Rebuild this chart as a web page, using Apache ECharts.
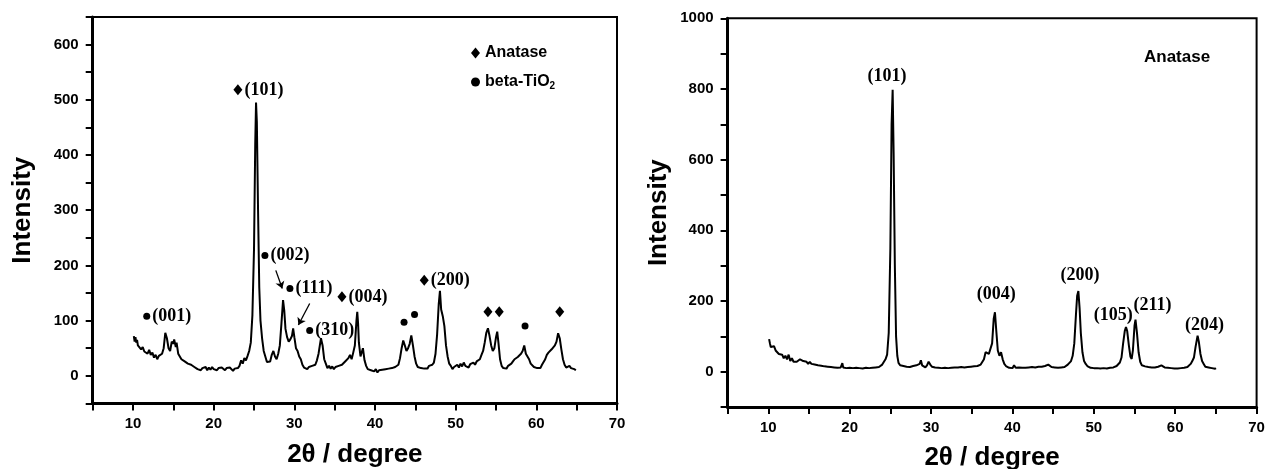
<!DOCTYPE html>
<html>
<head>
<meta charset="utf-8">
<script src="https://cdn.jsdelivr.net/npm/echarts@6/dist/echarts.min.js"></script>
<style>html,body{margin:0;padding:0;background:#fff}#c{width:1266px;height:469px}</style>
</head>
<body>
<div id="c"></div>
<script>
// ---- Left panel: mixed anatase / beta-TiO2 ----
const leftTheta = [10.1,10.2,10.3,10.4,10.5,10.6,10.8,11.0,11.2,11.4,11.6,11.8,12.0,12.2,12.4,12.6,12.8,13.0,13.2,13.4,13.6,13.8,14.0,14.1,14.2,14.4,14.6,14.8,15.0,15.1,15.3,15.4,15.6,15.8,16.0,16.2,16.4,16.6,16.8,17.0,17.2,17.4,17.6,17.8,18.0,18.2,18.4,18.6,18.8,19.0,19.2,19.4,19.6,19.8,20.0,20.2,20.4,20.6,20.8,21.0,21.2,21.4,21.6,21.8,22.0,22.2,22.4,22.6,22.8,23.0,23.2,23.4,23.6,23.8,24.0,24.2,24.4,24.6,24.8,25.0,25.15,25.25,25.35,25.5,25.65,25.8,26.0,26.2,26.4,26.6,26.8,27.0,27.2,27.4,27.6,27.8,28.0,28.2,28.4,28.6,28.75,28.9,29.1,29.3,29.5,29.7,29.85,30.0,30.2,30.4,30.6,30.8,31.0,31.2,31.4,31.6,31.8,32.0,32.2,32.4,32.6,32.8,33.0,33.3,33.5,33.7,33.9,34.1,34.3,34.5,34.7,34.9,35.1,35.3,35.5,35.7,35.9,36.1,36.3,36.5,36.7,36.9,37.1,37.3,37.5,37.7,37.8,37.9,38.0,38.2,38.4,38.5,38.7,38.9,39.1,39.3,39.5,39.7,39.9,40.1,40.3,40.5,40.7,40.9,41.1,41.3,41.5,41.7,41.9,42.1,42.3,42.5,42.7,42.9,43.1,43.3,43.5,43.7,43.9,44.1,44.3,44.5,44.7,44.9,45.1,45.3,45.5,45.7,45.9,46.1,46.3,46.5,46.7,46.9,47.1,47.3,47.5,47.7,47.9,48.05,48.2,48.4,48.6,48.8,49.0,49.2,49.4,49.6,49.8,50.0,50.2,50.4,50.6,50.8,51.0,51.2,51.4,51.6,51.8,52.0,52.2,52.4,52.6,52.8,53.0,53.2,53.4,53.6,53.8,54.0,54.2,54.4,54.6,54.8,55.0,55.15,55.3,55.5,55.7,55.9,56.1,56.3,56.5,56.7,56.9,57.1,57.3,57.5,57.7,57.9,58.1,58.3,58.5,58.7,58.9,59.1,59.3,59.5,59.7,59.9,60.1,60.3,60.5,60.7,60.9,61.1,61.3,61.5,61.7,61.9,62.1,62.3,62.5,62.7,62.9,63.1,63.3,63.5,63.7,63.9,64.1,64.3,64.5,64.7,64.9];
const leftIntensity = [72,62,70,60,65,55,58,48,52,44,46,40,47,38,42,33,38,30,36,33,40,50,78,80,68,50,45,62,58,66,52,60,40,38,30,32,26,28,22,25,20,22,16,18,12,15,10,14,11,16,10,15,11,16,12,15,10,14,11,15,12,10,14,11,15,12,9,13,10,14,18,28,22,32,28,36,45,60,110,230,420,495,460,300,160,100,68,45,35,25,22,26,38,45,35,30,40,55,95,137,118,85,70,62,66,72,86,70,50,45,35,30,20,15,18,12,16,14,18,15,20,28,40,68,55,30,22,14,18,13,17,12,16,14,18,15,20,18,26,24,32,38,30,42,55,100,116,95,60,35,45,50,28,18,12,15,10,13,8,12,6,10,7,11,8,12,9,13,10,14,11,16,14,20,32,50,64,55,45,50,58,73,55,35,22,16,18,14,17,13,16,13,18,15,20,24,40,75,130,154,120,108,90,55,35,22,18,12,16,14,20,15,22,17,24,18,20,15,21,18,24,20,26,24,30,38,45,60,78,86,72,55,45,50,70,80,60,30,18,14,17,13,18,16,22,26,30,28,34,36,40,45,55,40,42,30,22,20,16,18,14,17,14,20,22,30,38,42,45,48,50,55,62,77,68,48,30,20,15,12,18,14,17,12,10];

// peak markers (theta, marker height, label)
const leftAnataseTheta = [23.0, 35.9, 46.1, 54.0, 55.4, 62.9];
const leftAnataseY     = [518, 143, 173, 116, 116, 116];
const leftAnataseLabel = ['(101)', '(004)', '(200)', '', '', ''];
const leftBetaTheta = [11.7, 26.35, 29.45, 31.9, 43.6, 44.9, 58.6];
const leftBetaY     = [108, 218, 158, 82, 97, 111, 90];
const leftBetaLabel = ['(001)', '(002)', '(111)', '(310)', '', '', ''];
// arrows: [theta0, y0, theta1, y1]
const leftArrows = [[27.7, 191, 28.5, 158], [31.9, 131, 30.5, 92]];

// ---- Right panel: anatase ----
const rightTheta = [10.1,10.2,10.3,10.5,10.7,10.9,11.1,11.3,11.5,11.7,11.9,12.1,12.3,12.5,12.7,12.9,13.1,13.3,13.5,13.7,13.9,14.1,14.3,14.5,14.7,14.9,15.1,15.3,15.5,15.7,15.9,16.1,16.3,16.5,16.7,16.9,17.1,17.3,17.5,17.7,17.9,18.1,18.3,18.5,18.7,18.9,19.1,19.2,19.4,19.6,19.8,20.0,20.2,20.4,20.6,20.8,21.0,21.2,21.4,21.6,21.8,22.0,22.2,22.4,22.6,22.8,23.0,23.2,23.4,23.6,23.8,24.0,24.2,24.4,24.6,24.8,25.0,25.15,25.28,25.4,25.55,25.7,25.85,26.0,26.2,26.4,26.6,26.8,27.0,27.2,27.4,27.6,27.8,28.0,28.2,28.4,28.6,28.75,28.9,29.1,29.3,29.5,29.7,29.9,30.1,30.3,30.5,30.7,30.9,31.1,31.3,31.5,31.7,31.9,32.1,32.3,32.5,32.7,32.9,33.1,33.3,33.5,33.7,33.9,34.1,34.3,34.5,34.7,34.9,35.1,35.3,35.5,35.7,35.9,36.1,36.3,36.5,36.7,36.9,37.1,37.3,37.5,37.7,37.85,38.0,38.2,38.4,38.6,38.8,39.0,39.2,39.4,39.6,39.8,40.0,40.2,40.4,40.6,40.8,41.0,41.2,41.4,41.6,41.8,42.0,42.2,42.4,42.6,42.8,43.0,43.2,43.4,43.6,43.8,44.0,44.2,44.4,44.6,44.8,45.0,45.2,45.4,45.6,45.8,46.0,46.2,46.4,46.6,46.8,47.0,47.2,47.4,47.6,47.8,47.95,48.1,48.25,48.4,48.6,48.8,49.0,49.2,49.4,49.6,49.8,50.0,50.2,50.4,50.6,50.8,51.0,51.2,51.4,51.6,51.8,52.0,52.2,52.4,52.6,52.8,53.0,53.2,53.4,53.6,53.8,53.95,54.1,54.3,54.5,54.65,54.8,55.0,55.12,55.3,55.5,55.7,55.9,56.1,56.3,56.5,56.7,56.9,57.1,57.3,57.5,57.7,57.9,58.1,58.3,58.5,58.7,58.9,59.1,59.3,59.5,59.7,59.9,60.1,60.3,60.5,60.7,60.9,61.1,61.3,61.5,61.7,61.9,62.1,62.3,62.5,62.75,62.9,63.1,63.3,63.5,63.7,63.9,64.1,64.3,64.5,64.7,64.9,65.0];
const rightIntensity = [92,80,70,65,72,60,55,50,45,48,38,45,35,48,30,38,28,32,28,30,35,40,30,26,28,22,28,22,25,20,22,18,21,17,20,15,18,14,17,13,16,12,14,11,13,12,24,12,14,10,13,11,14,10,13,11,14,10,12,9,13,11,14,10,13,11,15,12,16,13,17,20,25,35,48,110,350,700,798,620,300,100,45,25,18,14,16,12,14,11,13,12,16,14,18,16,22,32,18,14,12,18,28,20,14,10,12,8,11,7,10,8,11,7,10,8,11,9,12,9,12,10,13,10,12,9,13,11,14,12,15,13,16,18,20,25,35,55,60,50,52,80,150,168,120,60,45,55,35,22,16,13,11,13,10,18,11,9,12,9,11,8,11,9,12,10,13,10,12,11,14,18,14,12,16,14,20,15,13,16,12,14,11,14,12,15,13,17,20,24,30,45,80,160,215,228,180,110,55,30,22,16,13,11,14,10,13,10,12,9,13,10,12,9,13,11,14,12,15,16,20,26,40,80,115,126,115,75,42,36,60,130,147,110,55,28,18,13,15,11,13,10,12,9,12,10,14,12,18,14,12,15,11,13,10,12,9,11,9,12,10,13,11,14,13,17,22,30,40,70,102,85,50,30,22,14,18,12,15,10,12,8,10];

const rightLabelTheta = [24.6, 38.0, 48.3, 52.4, 57.2, 63.6];
const rightLabelY     = [837, 218, 272, 159, 187, 132];
const rightLabelText  = ['(101)', '(004)', '(200)', '(105)', '(211)', '(204)'];

// ---- tick labels ----
const xTickLabels = [10, 20, 30, 40, 50, 60, 70];
const leftYTickLabels = [0, 100, 200, 300, 400, 500, 600];
const rightYTickLabels = [0, 200, 400, 600, 800, 1000];

const zip = (a, b) => a.map((v, i) => [v, b[i]]);
const marks = (xs, ys, labels) => xs.map((x, i) => ({ name: labels[i], value: [x, ys[i]] }));

const SANS = 'Liberation Sans, Arial, sans-serif';
const SERIF = 'Liberation Serif, Times New Roman, serif';

function xAxis(gridIndex) {
  return {
    gridIndex, type: 'value', min: 5, max: 70, interval: 5,
    name: '2\u03b8 / degree', nameLocation: 'middle', nameGap: 38,
    nameTextStyle: { fontSize: 26, fontWeight: 'bold', color: '#000', fontFamily: SANS },
    axisLine: { onZero: false, lineStyle: { color: '#000', width: 3 } },
    axisTick: { length: 7, lineStyle: { color: '#000', width: 2 } },
    axisLabel: {
      formatter: v => xTickLabels.includes(v) ? String(v) : '',
      color: '#000', fontWeight: 'bold', fontSize: 15, margin: 13, fontFamily: SANS,
      showMaxLabel: true, showMinLabel: true
    },
    splitLine: { show: false }
  };
}
function yAxis(gridIndex, min, max, interval, labels, gap) {
  return {
    gridIndex, type: 'value', min, max, interval,
    name: 'Intensity', nameLocation: 'middle', nameGap: gap,
    nameTextStyle: { fontSize: 26, fontWeight: 'bold', color: '#000', fontFamily: SANS },
    axisLine: { onZero: false, lineStyle: { color: '#000', width: 3 } },
    axisTick: { length: 7, lineStyle: { color: '#000', width: 2 } },
    axisLabel: {
      formatter: v => labels.includes(v) ? String(v) : '',
      color: '#000', fontWeight: 'bold', fontSize: 15, margin: 14, fontFamily: SANS
    },
    splitLine: { show: false }
  };
}

const peakLabel = {
  show: true, formatter: '{b}', position: 'right', distance: 2,
  color: '#000', fontFamily: SERIF, fontSize: 18, fontWeight: 'bold'
};

const chart = echarts.init(document.getElementById('c'), null, { renderer: 'canvas' });
chart.setOption({
  animation: false,
  backgroundColor: '#fff',
  grid: [
    { left: 92.7, top: 17, width: 524.3, height: 386.4, show: true, borderColor: '#000', borderWidth: 2,
      backgroundColor: 'transparent', containLabel: false, outerBoundsMode: 'none' },
    { left: 727.6, top: 18.3, width: 529, height: 388.7, show: true, borderColor: '#000', borderWidth: 2,
      backgroundColor: 'transparent', containLabel: false, outerBoundsMode: 'none' }
  ],
  xAxis: [xAxis(0), xAxis(1)],
  yAxis: [
    yAxis(0, -50, 650, 50, leftYTickLabels, 57),
    yAxis(1, -100, 1000, 100, rightYTickLabels, 56)
  ],
  legend: {
    orient: 'vertical', left: 466, top: 40, itemWidth: 9, itemHeight: 11, itemGap: 13,
    data: [
      { name: 'Anatase', icon: 'diamond', itemStyle: { color: '#000', opacity: 1 } },
      { name: 'beta-TiO2', icon: 'circle', itemStyle: { color: '#000', opacity: 1 } }
    ],
    formatter: n => n === 'beta-TiO2' ? '{t|beta-TiO}{s|2}' : '{t|Anatase}',
    textStyle: {
      color: '#000',
      rich: {
        t: { fontSize: 16, fontWeight: 'bold', fontFamily: SANS, color: '#000' },
        s: { fontSize: 10, fontWeight: 'bold', fontFamily: SANS, color: '#000', padding: [9, 0, 0, 0] }
      }
    }
  },
  title: {
    text: 'Anatase', left: 1139, top: 44,
    textStyle: { fontSize: 17, fontWeight: 'bold', fontFamily: SANS, color: '#000' }
  },
  series: [
    {
      type: 'line', xAxisIndex: 0, yAxisIndex: 0, showSymbol: false, silent: true,
      lineStyle: { color: '#000', width: 2 }, data: zip(leftTheta, leftIntensity),
      markLine: {
        silent: true, symbol: ['none', 'arrow'], symbolSize: 7,
        lineStyle: { color: '#000', width: 1.3, type: 'solid' }, label: { show: false },
        data: leftArrows.map(a => [{ coord: [a[0], a[1]] }, { coord: [a[2], a[3]] }])
      }
    },
    {
      name: 'Anatase', type: 'scatter', xAxisIndex: 0, yAxisIndex: 0, symbol: 'diamond', symbolSize: [9, 11],
      itemStyle: { color: '#000', opacity: 1 }, label: peakLabel,
      data: marks(leftAnataseTheta, leftAnataseY, leftAnataseLabel)
    },
    {
      name: 'beta-TiO2', type: 'scatter', xAxisIndex: 0, yAxisIndex: 0, symbol: 'circle', symbolSize: 7,
      itemStyle: { color: '#000', opacity: 1 }, label: peakLabel,
      data: marks(leftBetaTheta, leftBetaY, leftBetaLabel)
    },
    {
      type: 'line', xAxisIndex: 1, yAxisIndex: 1, showSymbol: false, silent: true,
      lineStyle: { color: '#000', width: 2 }, data: zip(rightTheta, rightIntensity)
    },
    {
      type: 'scatter', xAxisIndex: 1, yAxisIndex: 1, symbol: 'circle', symbolSize: 1, silent: true,
      itemStyle: { color: 'rgba(0,0,0,0)', opacity: 1 },
      label: { show: true, formatter: '{b}', position: 'inside', color: '#000', fontFamily: SERIF, fontSize: 18, fontWeight: 'bold' },
      data: marks(rightLabelTheta, rightLabelY, rightLabelText)
    }
  ]
});
</script>
</body>
</html>
